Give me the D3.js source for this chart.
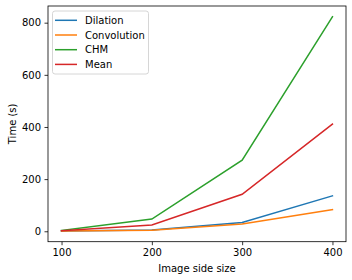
<!DOCTYPE html>
<html>
<head>
<meta charset="utf-8">
<script src="https://cdn.jsdelivr.net/npm/d3@7"></script>
<style>
  body { margin: 0; background: #fff; }
  text { font-family: "DejaVu Sans", sans-serif; }
</style>
</head>
<body>
<svg id="chart"></svg>
<script>
// image side sizes
const sizes = [100, 200, 300, 400]
const dilation = [1, 5, 34, 136]
const convolution = [1, 4, 28, 83]
const chm = [3, 47, 273, 823]
const mean = [2, 24, 142, 411]

const seriesNames = ["Dilation", "Convolution", "CHM", "Mean"]
const seriesValues = [dilation, convolution, chm, mean]
const colors = ["#1f77b4", "#ff7f0e", "#2ca02c", "#d62728"]

const xTicks = [100, 200, 300, 400]
const yTicks = [0, 200, 400, 600, 800]

const width = 352, height = 280
const plotLeft = 48, plotRight = 346, plotTop = 6, plotBottom = 241.7

const svg = d3.select("#chart")
    .attr("width", width)
    .attr("height", height)

const x = d3.scaleLinear().domain([85, 415]).range([plotLeft, plotRight])
const y = d3.scaleLinear().domain([-40, 864]).range([plotBottom, plotTop])

// axes
const xAxis = svg.append("g")
    .attr("transform", `translate(0,${plotBottom})`)
    .call(d3.axisBottom(x).tickValues(xTicks).tickSize(3.5).tickPadding(3.5).tickFormat(d3.format("d")))
const yAxis = svg.append("g")
    .attr("transform", `translate(${plotLeft},0)`)
    .call(d3.axisLeft(y).tickValues(yTicks).tickSize(3.5).tickPadding(3.5).tickFormat(d3.format("d")))

for (const ax of [xAxis, yAxis]) {
    ax.select(".domain").remove()
    ax.selectAll(".tick line").attr("stroke", "#000").attr("stroke-width", 0.8)
    ax.selectAll(".tick text")
        .attr("font-family", "DejaVu Sans")
        .attr("font-size", 10)
        .attr("fill", "#000")
}

// lines
const line = d3.line()
    .x((d, i) => x(sizes[i]))
    .y(d => y(d))

seriesValues.forEach((vals, i) => {
    svg.append("path")
        .datum(vals)
        .attr("d", line)
        .attr("fill", "none")
        .attr("stroke", colors[i])
        .attr("stroke-width", 1.5)
        .attr("stroke-linecap", "square")
})

// frame
svg.append("rect")
    .attr("x", plotLeft)
    .attr("y", plotTop)
    .attr("width", plotRight - plotLeft)
    .attr("height", plotBottom - plotTop)
    .attr("fill", "none")
    .attr("stroke", "#000")
    .attr("stroke-width", 0.8)

// axis labels
svg.append("text")
    .text("Image side size")
    .attr("x", (plotLeft + plotRight) / 2)
    .attr("y", 272)
    .attr("text-anchor", "middle")
    .attr("font-size", 10)
    .attr("fill", "#000")

svg.append("text")
    .text("Time (s)")
    .attr("transform", `translate(16,${(plotTop + plotBottom) / 2}) rotate(-90)`)
    .attr("text-anchor", "middle")
    .attr("font-size", 10)
    .attr("fill", "#000")

// legend
const legend = svg.append("g")
legend.append("rect")
    .attr("x", 52.5)
    .attr("y", 11)
    .attr("width", 96)
    .attr("height", 63)
    .attr("rx", 2.5)
    .attr("fill", "#fff")
    .attr("fill-opacity", 0.8)
    .attr("stroke", "#ccc")
    .attr("stroke-width", 0.8)

seriesNames.forEach((name, i) => {
    const ly = 20.3 + i * 14.7
    legend.append("line")
        .attr("x1", 55)
        .attr("x2", 77)
        .attr("y1", ly)
        .attr("y2", ly)
        .attr("stroke", colors[i])
        .attr("stroke-width", 1.5)
    legend.append("text")
        .text(name)
        .attr("x", 85)
        .attr("y", ly)
        .attr("dy", "0.35em")
        .attr("font-size", 10)
        .attr("fill", "#000")
})
</script>
</body>
</html>
